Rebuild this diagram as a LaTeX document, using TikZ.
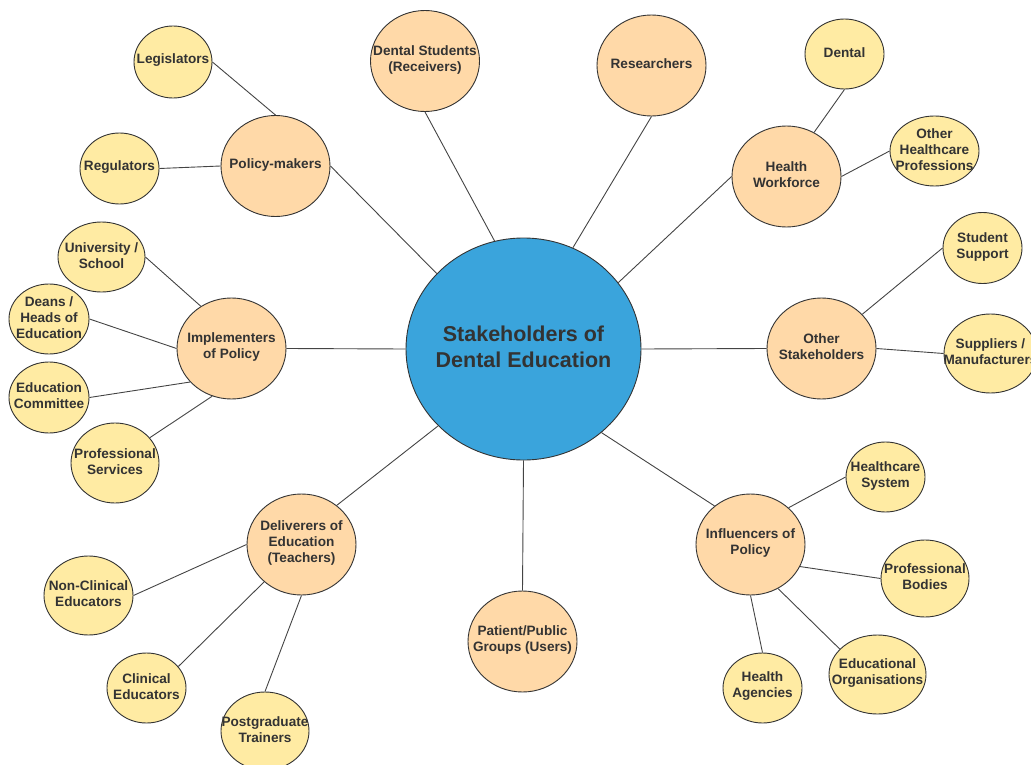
\documentclass[tikz,border=0pt]{standalone}
\usepackage{fontspec}
\setmainfont{Liberation Sans}
\usetikzlibrary{shapes.geometric}
\definecolor{hubblue}{HTML}{3AA4DC}
\definecolor{midpeach}{HTML}{FFD9A8}
\definecolor{leafyellow}{HTML}{FFEBA3}
\definecolor{inkgray}{HTML}{333333}
\definecolor{linegray}{HTML}{444444}
\begin{document}
\begin{tikzpicture}[x=1pt,y=-1pt,
  bubble/.style={ellipse,draw=inkgray,line width=0.9pt,inner sep=0pt},
  hub/.style={bubble,fill=hubblue,minimum width=235,minimum height=222},
  mid/.style={bubble,fill=midpeach,minimum width=109,minimum height=101},
  leaf/.style={bubble,fill=leafyellow,minimum width=79,minimum height=71},
  txt/.style={inner sep=0pt,align=center,text=inkgray,yshift=1.5pt,
    font=\fontsize{13.6}{16}\selectfont\bfseries},
  bigtxt/.style={inner sep=0pt,align=center,text=inkgray,yshift=2pt,
    font=\fontsize{21.5}{26}\selectfont\bfseries},
  edge/.style={draw=linegray,line width=0.9pt}]
\useasboundingbox (0,0) rectangle (1031,765);
\clip (0,0) rectangle (1031,765);

% central hub
\node[hub,label={[bigtxt]center:Stakeholders of\\Dental Education}] (hub) at (523.5,349) {};

% second ring
\node[mid,label={[txt]center:Dental Students\\(Receivers)}] (ds) at (425,61) {};
\node[mid,label={[txt]center:Researchers}] (res) at (651.5,65.5) {};
\node[mid,label={[txt]center:Policy-makers}] (pm) at (275.5,166) {};
\node[mid,label={[txt]center:Health\\Workforce}] (hw) at (786.5,176.5) {};
\node[mid,label={[txt]center:Implementers\\of Policy}] (imp) at (231.5,348.5) {};
\node[mid,label={[txt]center:Other\\Stakeholders}] (os) at (821.5,348.5) {};
\node[mid,label={[txt]center:Deliverers of\\Education\\(Teachers)}] (del) at (301.5,544.5) {};
\node[mid,label={[txt]center:Influencers of\\Policy}] (inf) at (750.5,544.5) {};
\node[mid,label={[txt]center:Patient/Public\\Groups (Users)}] (pat) at (522.5,641.5) {};

% outer ring
\node[leaf,minimum width=78,minimum height=72,label={[txt]center:Legislators}] (leg) at (173,62) {};
\node[leaf,label={[txt]center:Regulators}] (reg) at (119.5,168.5) {};
\node[leaf,minimum height=70,label={[txt]center:Dental}] (den) at (844.5,54) {};
\node[leaf,minimum width=89,minimum height=70,label={[txt]center:Other\\Healthcare\\Professions}] (ohp) at (934.5,151) {};
\node[leaf,minimum width=87,minimum height=70,label={[txt]center:University /\\School}] (uni) at (101.5,257) {};
\node[leaf,minimum width=80,minimum height=70,label={[txt]center:Deans /\\Heads of\\Education}] (dean) at (49,319) {};
\node[leaf,minimum width=80,minimum height=71,label={[txt]center:Education\\Committee}] (ecom) at (49,397.5) {};
\node[leaf,minimum width=88,minimum height=80,label={[txt]center:Professional\\Services}] (ps) at (115,463) {};
\node[leaf,label={[txt]center:Student\\Support}] (ss) at (982.5,248) {};
\node[leaf,minimum width=93,minimum height=79,label={[txt]center:Suppliers /\\Manufacturers}] (sup) at (990.5,353.5) {};
\node[leaf,minimum width=79,minimum height=70,label={[txt]center:Healthcare\\System}] (hs) at (885.5,477) {};
\node[leaf,minimum width=88,minimum height=77,label={[txt]center:Professional\\Bodies}] (pb) at (925,578.5) {};
\node[leaf,minimum width=97,minimum height=79,label={[txt]center:Educational\\Organisations}] (eo) at (877.5,674.5) {};
\node[leaf,minimum width=79,minimum height=70,label={[txt]center:Health\\Agencies}] (ha) at (762.5,688) {};
\node[leaf,minimum width=89,minimum height=79,label={[txt]center:Non-Clinical\\Educators}] (nc) at (88.5,595.5) {};
\node[leaf,minimum width=79,minimum height=70,label={[txt]center:Clinical\\Educators}] (ce) at (146.5,688) {};
\node[leaf,minimum width=88,minimum height=78,label={[txt]center:Postgraduate\\Trainers}] (pg) at (265,731) {};

% connectors, from border to border
\draw[edge] (leg.east) -- (pm.north);
\draw[edge] (reg.east) -- (pm.west);
\draw[edge] (pm.east) -- (hub.139);
\draw[edge] (ds.south) -- (hub.105);
\draw[edge] (res.south) -- (hub.64.5);
\draw[edge] (hw.west) -- (hub.35);
\draw[edge] (hw.58) -- (den.south);
\draw[edge] (hw.east) -- (ohp.west);
\draw[edge] (imp.east) -- (hub.west);
\draw[edge] (imp.126) -- (uni.east);
\draw[edge] (imp.west) -- (dean.east);
\draw[edge] (imp.219.5) -- (ecom.east);
\draw[edge] (imp.248) -- (ps.36);
\draw[edge] (hub.east) -- (os.west);
\draw[edge] (os.40) -- (ss.west);
\draw[edge] (os.east) -- (sup.west);
\draw[edge] (hub.313) -- (inf.133);
\draw[edge] (inf.44) -- (hs.west);
\draw[edge] (inf.336) -- (pb.west);
\draw[edge] (inf.302) -- (eo.146);
\draw[edge] (inf.south) -- (ha.north);
\draw[edge] (hub.south) -- (pat.north);
\draw[edge] (hub.222.5) -- (del.48);
\draw[edge] (del.west) -- (nc.east);
\draw[edge] (del.225) -- (ce.34.5);
\draw[edge] (del.south) -- (pg.north);
\end{tikzpicture}
\end{document}
